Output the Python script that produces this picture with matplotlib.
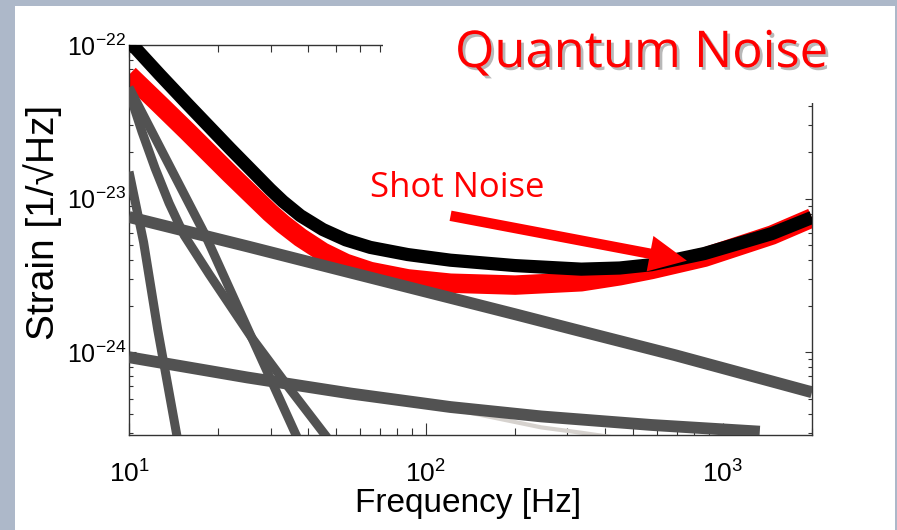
import matplotlib
matplotlib.use("Agg")
import matplotlib.pyplot as plt
from matplotlib import patheffects
from matplotlib.patches import Rectangle, FancyArrowPatch, ArrowStyle
from matplotlib.ticker import FixedLocator, LogLocator, NullFormatter

# %%
# Values (frequency in Hz, strain in 1/sqrt(Hz))

f_total = [10, 12.7, 15.7, 21.9, 29.9, 33, 37.8, 45, 53.7, 65, 86.9, 121, 200, 334, 450,
           576, 869, 1466, 2000]
h_total = [1.06e-22, 6.41e-23, 4.15e-23, 2.12e-23, 1.15e-23, 9.6e-24, 7.75e-24, 6.3e-24,
           5.4e-24, 4.82e-24, 4.33e-24, 3.98e-24, 3.67e-24, 3.48e-24, 3.54e-24,
           3.72e-24, 4.4e-24, 5.93e-24, 7.55e-24]

f_quantum = [10, 12.7, 15.7, 21.9, 29.9, 33, 37.8, 45, 53.7, 65, 86.9, 121, 200, 334, 450,
             576, 869, 1466, 2000]
h_quantum = [6.4e-23, 4.1e-23, 2.75e-23, 1.45e-23, 8.1e-24, 6.85e-24, 5.59e-24, 4.49e-24,
             3.8e-24, 3.36e-24, 3.01e-24, 2.82e-24, 2.74e-24, 2.88e-24, 3.15e-24,
             3.46e-24, 4.16e-24, 5.8e-24, 7.5e-24]

f_coating = [10, 25, 56, 200, 316, 690, 2000]
h_coating = [7.6e-24, 4.9e-24, 3.3e-24, 1.77e-24, 1.41e-24, 9.6e-25, 5.5e-25]

f_substrate = [10, 25, 55.8, 121, 245, 576, 1334]
h_substrate = [9.3e-25, 6.87e-25, 5.4e-25, 4.41e-25, 3.83e-25, 3.37e-25, 3.05e-25]

f_faint = [121, 245, 334, 456]
h_faint = [4.3e-25, 3.25e-25, 3.0e-25, 2.75e-25]

f_seismic = [10, 11.2, 12.5, 15]
h_seismic = [1.5e-23, 5.2e-24, 1.4e-24, 2.0e-25]

f_suspension = [10, 11.07, 12.24, 13.65, 15.34, 18.64, 26.03, 34.71, 45.94, 55]
h_suspension = [4.94e-23, 2.71e-23, 1.58e-23, 9.35e-24, 5.78e-24, 3.22e-24, 1.23e-24,
                5.83e-25, 2.88e-25, 1.8e-25]

f_newtonian = [10, 18.07, 26.0, 36.6, 42]
h_newtonian = [5.3e-23, 5.8e-24, 1.23e-24, 2.88e-25, 1.62e-25]

x_ticks = [10, 100, 1000]
y_ticks = [1e-24, 1e-23, 1e-22]

# %%
# Fonts

plt.rcParams["font.family"] = ["Liberation Sans", "DejaVu Sans"]
plt.rcParams["axes.unicode_minus"] = False

# %%
# Slide background and white panel

W, H = 897, 530
fig = plt.figure(figsize=(W / 100, H / 100), dpi=100, facecolor="#adb8c9")
fig.add_artist(Rectangle((15 / W, 0), 880 / W, 524 / H, transform=fig.transFigure,
                         facecolor="white", edgecolor="none", zorder=-1))

ax = fig.add_axes([129 / W, 1 - 435 / H, 683 / W, 390 / H])
ax.set_xscale("log")
ax.set_yscale("log")

gray = "#525252"
ax.plot(f_quantum, h_quantum, color="#ff0000", lw=14, solid_capstyle="butt", zorder=2)
ax.plot(f_faint, h_faint, color="#d6d2ce", lw=3, solid_capstyle="butt", zorder=2.5)
for f, h in [(f_coating, h_coating), (f_substrate, h_substrate)]:
    ax.plot(f, h, color=gray, lw=8.5, solid_capstyle="butt", zorder=3)
for f, h in [(f_seismic, h_seismic), (f_suspension, h_suspension), (f_newtonian, h_newtonian)]:
    ax.plot(f, h, color=gray, lw=6.5, solid_capstyle="butt", zorder=3)
ax.plot(f_total, h_total, color="black", lw=9.5, solid_capstyle="butt", zorder=4)

ax.set_xlim(10, 2000)
ax.set_ylim(2.9e-25, 1e-22)
ax.xaxis.set_major_locator(FixedLocator(x_ticks))
ax.yaxis.set_major_locator(FixedLocator(y_ticks))
ax.xaxis.set_minor_locator(LogLocator(base=10, subs=range(2, 10), numticks=20))
ax.yaxis.set_minor_locator(LogLocator(base=10, subs=range(2, 10), numticks=20))
ax.xaxis.set_minor_formatter(NullFormatter())
ax.yaxis.set_minor_formatter(NullFormatter())

ax.tick_params(which="both", direction="in", top=True, right=True,
               width=0.8, color="#333333", labelsize=19)
ax.tick_params(axis="y", labelsize=18)
ax.tick_params(axis="x", which="major", length=8.5, pad=18)
ax.tick_params(axis="x", which="minor", length=5)
ax.tick_params(axis="y", which="major", length=5, pad=2)
ax.tick_params(axis="y", which="minor", length=3)
for s in ax.spines.values():
    s.set_color("#333333")
    s.set_linewidth(1.0)

ax.set_xlabel("Frequency [Hz]", fontsize=24)
ax.xaxis.set_label_coords(0.496, -0.135)
ax.set_ylabel("Strain [1/\u221aHz]", fontsize=28)
ax.yaxis.set_label_coords(-0.098, 0.545)

# %%
# Annotations

ax.text(0.353, 0.610, "Shot Noise", transform=ax.transAxes, color="#ff0000",
        fontsize=25, family=["Open Sans", "DejaVu Sans"], va="baseline", zorder=6)
arrow = FancyArrowPatch((118.6, 7.8e-24), (774, 3.92e-24),
                        arrowstyle=ArrowStyle.Simple(head_length=27, head_width=26, tail_width=7.5),
                        mutation_scale=1, color="#ff0000", lw=0, zorder=6, clip_on=False)
ax.add_patch(arrow)

# white block behind the title hides the top-right corner of the frame
fig.add_artist(Rectangle((383 / W, 1 - 103 / H), 460 / W, 97 / H, transform=fig.transFigure,
                         facecolor="white", edgecolor="none", zorder=5))
fig.text(455 / W, 1 - 67 / H, "Quantum Noise", color="#ff0000", fontsize=36.5,
         family=["Open Sans", "DejaVu Sans"], va="baseline", zorder=6,
         path_effects=[patheffects.withSimplePatchShadow(offset=(2, -2), shadow_rgbFace="#b8b8b8", alpha=1)])

fig.savefig("out.png", dpi=100, facecolor=fig.get_facecolor())
